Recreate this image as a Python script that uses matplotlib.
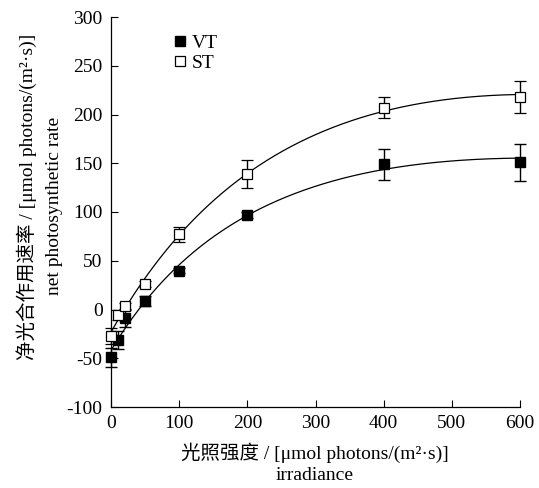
import numpy as np
import matplotlib
matplotlib.use("Agg")
import matplotlib.pyplot as plt
from matplotlib.lines import Line2D

# ---- data ----
irradiance = [0, 10, 20, 50, 100, 200, 400, 600]
vt_rate = [-49, -31, -9, 9, 40, 97, 149, 151]
vt_err = [10, 9, 9, 5, 3, 3, 16, 19]
st_rate = [-27, -6, 4, 26, 77, 139, 207, 218]
st_err = [8, 5, 3, 3, 8, 14, 11, 16]
x_ticks = [0, 100, 200, 300, 400, 500, 600]
y_ticks = [-100, -50, 0, 50, 100, 150, 200, 250, 300]
series_names = ['VT', 'ST']

plt.rcParams['font.family'] = ['Liberation Serif', 'Noto Sans CJK SC']
plt.rcParams['axes.unicode_minus'] = False


def fit_ye(x, y, min_sat=610.0):
    """Light-response fit P = a*I*(1-b*I)/(1+g*I) - Rd (least squares),
    with the saturating irradiance kept at the end of the plotted range."""
    x = np.asarray(x, float)
    y = np.asarray(y, float)
    best = None
    for b in np.linspace(0, 0.0015, 121):
        for g in np.linspace(0, 0.03, 241):
            if b > 0 and g > 0:
                isat = (np.sqrt((b + g) / b) - 1) / g
                if isat < min_sat:
                    continue
            f = x * (1 - b * x) / (1 + g * x)
            M = np.column_stack([f, -np.ones_like(x)])
            coef, *_ = np.linalg.lstsq(M, y, rcond=None)
            sse = ((M @ coef - y) ** 2).sum()
            if best is None or sse < best[0]:
                best = (sse, b, g, coef[0], coef[1])
    _, b, g, a, rd = best
    return lambda I: a * I * (1 - b * I) / (1 + g * I) - rd


fig = plt.figure(figsize=(5.39, 4.88), dpi=100)
ax = fig.add_axes([111 / 539, 1 - 407 / 488, 409 / 539, 390 / 488])

xs = np.linspace(0, 600, 400)
for yv in (vt_rate, st_rate):
    f = fit_ye(irradiance, yv)
    ax.plot(xs, f(xs), color='black', lw=0.9, zorder=2)

ax.errorbar(irradiance, vt_rate, yerr=vt_err, fmt='s', ms=7.5, mfc='black',
            mec='black', ecolor='black', elinewidth=1, capsize=4, capthick=1,
            zorder=3, clip_on=False)
ax.errorbar(irradiance, st_rate, yerr=st_err, fmt='s', ms=7.5, mfc='white',
            mec='black', mew=0.9, ecolor='black', elinewidth=1, capsize=4,
            capthick=1, zorder=4, clip_on=False)

ax.set_xlim(0, 600)
ax.set_ylim(-100, 300)
ax.set_xticks(x_ticks)
ax.set_yticks(y_ticks)
ax.tick_params(direction='in', labelsize=14, length=5, width=0.8, pad=6)
for s in ('top', 'right'):
    ax.spines[s].set_visible(False)
for s in ('left', 'bottom'):
    ax.spines[s].set_linewidth(0.9)

handles = [
    Line2D([], [], ls='none', marker='s', ms=7.5, mfc='black', mec='black'),
    Line2D([], [], ls='none', marker='s', ms=7.5, mfc='white', mec='black', mew=0.9),
]
ax.legend(handles, series_names, loc='upper left', bbox_to_anchor=(0.12, 0.99),
          frameon=False, fontsize=14, handlelength=0.6, handletextpad=0.35,
          labelspacing=0.1, borderaxespad=0.3)

fig.text(315 / 539, 1 - 453 / 488, '光照强度 / [μmol photons/(m²·s)]',
         ha='center', va='center', fontsize=14)
fig.text(315 / 539, 1 - 475 / 488, 'irradiance', ha='center', va='center',
         fontsize=14)
fig.text(27 / 539, 1 - 197 / 488, '净光合作用速率 / [μmol photons/(m²·s)]',
         ha='center', va='center', rotation=90, fontsize=14)
fig.text(55 / 539, 1 - 206 / 488, 'net photosynthetic rate', ha='center',
         va='center', rotation=90, fontsize=14)

fig.savefig('out.png', dpi=100)
